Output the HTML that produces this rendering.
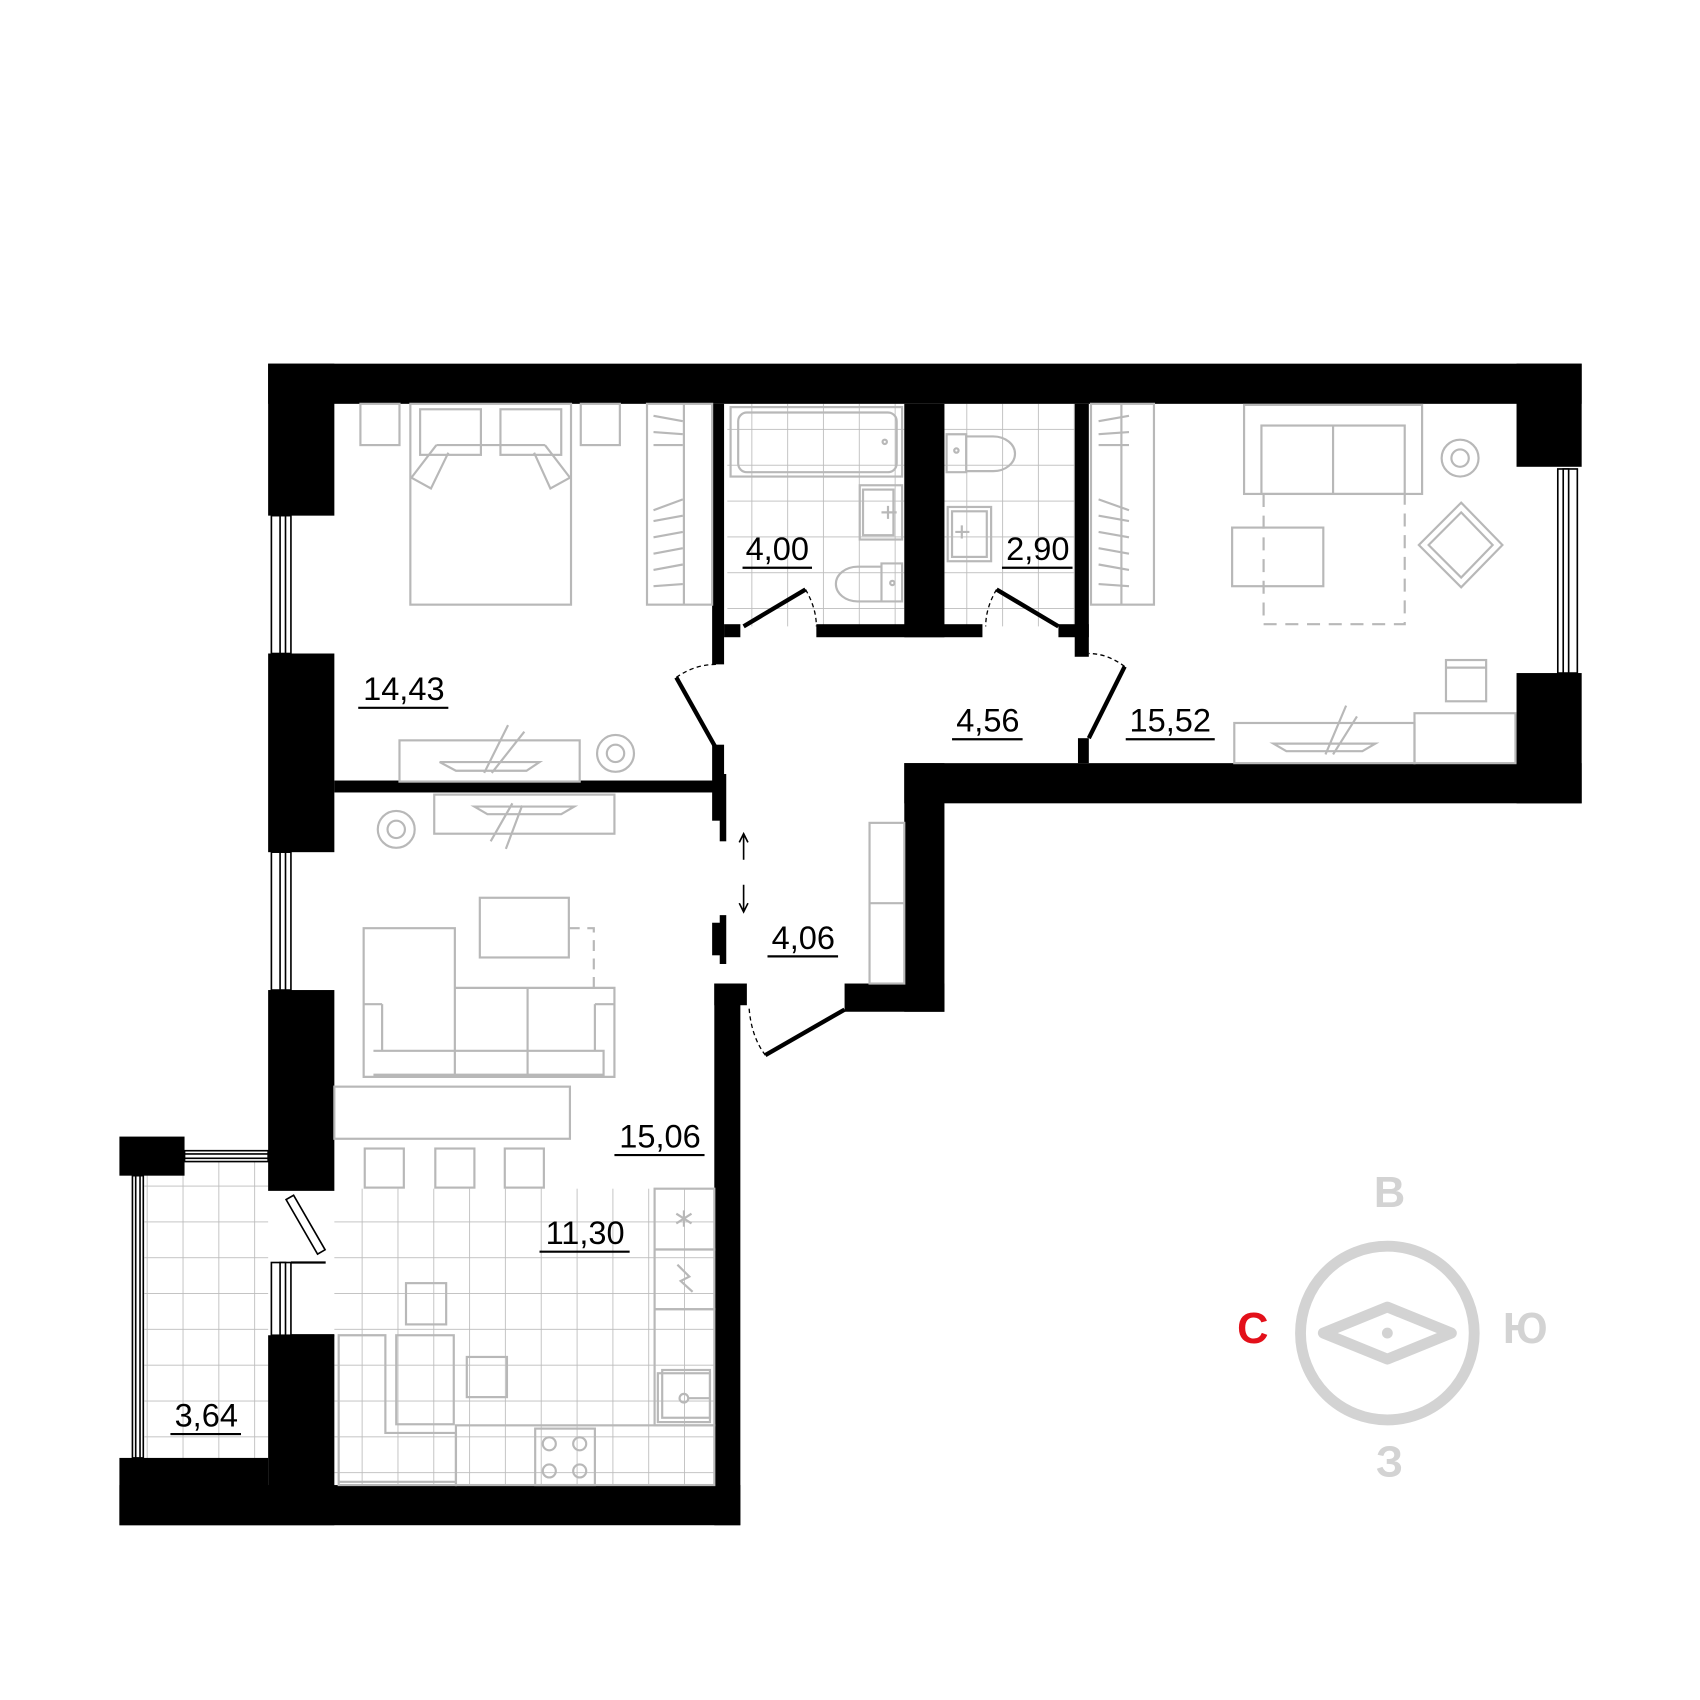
<!DOCTYPE html>
<html><head><meta charset="utf-8"><style>html,body{margin:0;padding:0;background:#fff}svg{display:block}</style></head>
<body>
<svg width="1700" height="1700" viewBox="0 0 1566 1566" xmlns="http://www.w3.org/2000/svg" font-family="Liberation Sans, DejaVu Sans, sans-serif">
<defs>
<pattern id="tile" width="33" height="33" patternUnits="userSpaceOnUse"><path d="M33 0V33H0" fill="none" stroke="#bcbcbc" stroke-width="1.6"/></pattern>
<pattern id="tile2" width="33" height="33" patternUnits="userSpaceOnUse" x="4" y="4"><path d="M33 0V33H0" fill="none" stroke="#bcbcbc" stroke-width="1.6"/></pattern>
</defs>
<rect width="1566" height="1566" fill="#fff"/>
<rect x="670" y="372" width="163" height="205" fill="url(#tile)"/>
<rect x="870" y="372" width="120" height="205" fill="url(#tile)"/>
<rect x="308" y="1095" width="350" height="273" fill="url(#tile2)"/>
<rect x="133" y="1070" width="114" height="275" fill="url(#tile2)"/>

<g fill="#000">
<rect x="247" y="335" width="1210" height="37"/>
<rect x="247" y="335" width="61" height="140"/>
<rect x="247" y="602" width="61" height="183"/>
<rect x="247" y="912" width="61" height="185"/>
<rect x="247" y="1230" width="61" height="175"/>
<rect x="1397" y="335" width="60" height="95"/>
<rect x="1397" y="620" width="60" height="120"/>
<rect x="833" y="703" width="624" height="37"/>
<rect x="833" y="703" width="37" height="229"/>
<rect x="778" y="906" width="92" height="26"/>
<rect x="308" y="719" width="350" height="11"/>
<rect x="656" y="372" width="11" height="240"/>
<rect x="656" y="686" width="11" height="70"/>
<rect x="663" y="713" width="6" height="62"/>
<rect x="663" y="843" width="6" height="45"/>
<rect x="656" y="850" width="8" height="30"/>
<rect x="658" y="906" width="24" height="499"/>
<rect x="658" y="906" width="30" height="20"/>
<rect x="110" y="1368" width="572" height="37"/>
<rect x="110" y="1343" width="137" height="62"/>
<rect x="110" y="1047" width="60" height="36"/>
<rect x="833" y="372" width="37" height="215"/>
<rect x="990" y="372" width="13" height="233"/>
<rect x="752" y="575" width="153" height="12"/>
<rect x="667" y="575" width="15" height="12"/>
<rect x="975" y="575" width="28" height="12"/>
<rect x="993" y="680" width="10" height="23"/>
</g>

<g fill="#fff" stroke="#000" stroke-width="1.5">
<rect x="250" y="475" width="18" height="127"/><rect x="258" y="475" width="5" height="127"/>
<rect x="250" y="785" width="18" height="127"/><rect x="258" y="785" width="5" height="127"/>
<rect x="1435" y="432" width="18" height="188"/><rect x="1440" y="432" width="5" height="188"/>
<rect x="250" y="1163" width="18" height="67"/><rect x="258" y="1163" width="5" height="67"/>
<rect x="170" y="1060" width="77" height="10"/><rect x="170" y="1063" width="77" height="4"/>
<rect x="122" y="1083" width="10" height="260"/><rect x="125" y="1083" width="4" height="260"/>
<rect x="263" y="1103" width="8" height="58" transform="rotate(-30 267 1103)"/>
</g>
<line x1="268" y1="1163" x2="300" y2="1163" stroke="#000" stroke-width="2"/>
<line x1="268" y1="1230" x2="308" y2="1230" stroke="#000" stroke-width="2"/>

<g stroke="#000" stroke-width="4" fill="none">
<line x1="685" y1="577" x2="742" y2="543"/>
<line x1="918" y1="543" x2="975" y2="577"/>
<line x1="623" y1="624" x2="660" y2="690"/>
<line x1="1036" y1="614" x2="1003" y2="680"/>
<line x1="705" y1="972" x2="778" y2="930"/>
</g>
<g stroke="#000" stroke-width="1.2" fill="none" stroke-dasharray="4 3">
<path d="M742 543 Q752 560 752 577"/>
<path d="M918 543 Q908 560 908 577"/>
<path d="M623 624 Q640 612 660 612"/>
<path d="M1036 614 Q1020 602 1003 602"/>
<path d="M705 972 Q692 955 690 928"/>
</g>
<g stroke="#000" stroke-width="1.5" fill="none">
<path d="M685 770V792M681 776L685 768L689 776"/>
<path d="M685 815V838M681 832L685 840L689 832"/>
</g>

<g fill="none" stroke="#b8b8b8" stroke-width="2">
<rect x="332" y="372" width="36" height="38"/><rect x="535" y="372" width="36" height="38"/>
<rect x="378" y="372" width="148" height="185"/>
<rect x="387" y="377" width="56" height="42"/><rect x="461" y="377" width="56" height="42"/>
<path d="M402 410H502M402 410L379 440L397 450L413 417M502 410L525 440L507 450L492 417"/>
<rect x="596" y="372" width="60" height="185"/><line x1="630" y1="372" x2="630" y2="557"/>
<path d="M602 383L629 388M602 398L629 400M602 410L629 410M602 470L629 460M602 480L629 475M602 495L629 490M602 510L629 505M602 525L629 520M602 540L629 538"/>
<rect x="368" y="682" width="166" height="38"/>
<path d="M405 702H497L485 710H420Z M446 712L468 668M453 712L483 674"/>
<circle cx="567" cy="694" r="17"/><circle cx="567" cy="694" r="8"/>
<rect x="673" y="375" width="158" height="64"/><rect x="680" y="380" width="146" height="55" rx="8"/>
<circle cx="815" cy="407" r="2"/>
<rect x="792" y="447" width="39" height="50"/><rect x="795" y="451" width="28" height="42"/>
<path d="M812 472H826M818 466V478"/>
<path d="M812 519H831V554H812Z M812 522H790A20 16 0 0 0 790 554H812"/><circle cx="822" cy="537" r="2"/>
<path d="M872 400H890V435H872Z M890 402H915A20 16 0 0 1 915 434H890"/><circle cx="881" cy="415" r="2"/>
<rect x="873" y="467" width="40" height="50"/><rect x="877" y="471" width="32" height="42"/>
<path d="M880 490H893M886 484V496"/>
<rect x="1005" y="372" width="58" height="185"/><line x1="1033" y1="372" x2="1033" y2="557"/>
<path d="M1040 383L1012 388M1040 398L1012 400M1040 410L1012 410M1040 470L1012 460M1040 480L1012 475M1040 495L1012 490M1040 510L1012 505M1040 525L1012 520M1040 540L1012 538"/>
<rect x="1146" y="373" width="164" height="82"/><rect x="1162" y="392" width="132" height="63"/><line x1="1228" y1="392" x2="1228" y2="455"/>
<rect x="1135" y="486" width="84" height="54"/>
<path d="M1164 455V575H1294V455" stroke-dasharray="12 8"/>
<circle cx="1345" cy="422" r="17"/><circle cx="1345" cy="422" r="8"/>
<path d="M1346 463L1384 502L1346 541L1307 502Z M1346 472L1375 502L1346 532L1316 502Z"/>
<rect x="1332" y="608" width="37" height="38"/><line x1="1332" y1="615" x2="1369" y2="615"/>
<rect x="1137" y="666" width="166" height="37"/><rect x="1303" y="657" width="93" height="46"/>
<path d="M1173 685H1267L1255 692H1185Z M1221 695L1240 650M1228 695L1250 660"/>
<rect x="801" y="758" width="32" height="148"/><line x1="801" y1="832" x2="833" y2="832"/>
<rect x="400" y="732" width="166" height="36"/>
<path d="M437 743H529L517 750H449Z M452 775L472 740M466 782L481 742"/>
<circle cx="365" cy="764" r="17"/><circle cx="365" cy="764" r="8"/>
<rect x="442" y="827" width="82" height="55"/>
<path d="M419 855H335V992H566V910H419Z M419 910V992M486 910V992M344 968H556V990H344M352 925H335M548 925H566"/>
<path d="M352 925V968M548 925V968"/>
<path d="M524 855H547V910" stroke-dasharray="10 7"/>
<rect x="308" y="1001" width="217" height="48"/>
<rect x="336" y="1058" width="36" height="36"/><rect x="401" y="1058" width="36" height="36"/><rect x="465" y="1058" width="36" height="36"/>
<rect x="603" y="1095" width="55" height="56"/><rect x="603" y="1151" width="55" height="55"/><rect x="603" y="1206" width="55" height="107"/>
<path d="M630 1115V1130M623 1118L637 1127M637 1118L623 1127"/>
<path d="M624 1165L635 1176L627 1180L638 1190"/>
<rect x="606" y="1265" width="48" height="45"/><rect x="610" y="1262" width="44" height="44"/><circle cx="630" cy="1288" r="4"/><line x1="634" y1="1288" x2="654" y2="1288"/>
<rect x="420" y="1313" width="238" height="55"/><rect x="493" y="1316" width="55" height="52"/>
<circle cx="506" cy="1330" r="6"/><circle cx="534" cy="1330" r="6"/><circle cx="506" cy="1355" r="6"/><circle cx="534" cy="1355" r="6"/>
<path d="M312 1230H355V1320H420V1368H312Z M312 1365H420"/>
<rect x="365" y="1230" width="53" height="82"/>
<rect x="374" y="1182" width="37" height="38"/>
<rect x="430" y="1250" width="37" height="37"/>
</g>

<g font-size="30" fill="#000" text-anchor="middle">
<text x="372" y="645">14,43</text><line x1="330" y1="652" x2="413" y2="652" stroke="#000" stroke-width="2"/>
<text x="716" y="516">4,00</text><line x1="684" y1="523" x2="748" y2="523" stroke="#000" stroke-width="2"/>
<text x="956" y="516">2,90</text><line x1="923" y1="523" x2="988" y2="523" stroke="#000" stroke-width="2"/>
<text x="910" y="674">4,56</text><line x1="877" y1="681" x2="942" y2="681" stroke="#000" stroke-width="2"/>
<text x="1078" y="674">15,52</text><line x1="1037" y1="681" x2="1119" y2="681" stroke="#000" stroke-width="2"/>
<text x="740" y="874">4,06</text><line x1="707" y1="881" x2="772" y2="881" stroke="#000" stroke-width="2"/>
<text x="608" y="1057">15,06</text><line x1="566" y1="1064" x2="649" y2="1064" stroke="#000" stroke-width="2"/>
<text x="539" y="1146">11,30</text><line x1="497" y1="1153" x2="580" y2="1153" stroke="#000" stroke-width="2"/>
<text x="190" y="1314">3,64</text><line x1="157" y1="1321" x2="222" y2="1321" stroke="#000" stroke-width="2"/>
</g>

<g fill="none" stroke="#d3d3d3">
<circle cx="1278" cy="1228" r="80" stroke-width="10"/>
<path d="M1219 1228L1278 1204L1337 1228L1278 1252Z" stroke-width="10" stroke-linejoin="round"/>
</g>
<circle cx="1278" cy="1228" r="5" fill="#d3d3d3"/>
<g font-size="40" font-weight="bold" text-anchor="middle">
<text x="1280" y="1112" fill="#d3d3d3">В</text>
<text x="1280" y="1360" fill="#d3d3d3">З</text>
<text x="1405" y="1237" fill="#d3d3d3">Ю</text>
<text x="1154" y="1237" fill="#e3101a">С</text>
</g>
</svg>
</body></html>
